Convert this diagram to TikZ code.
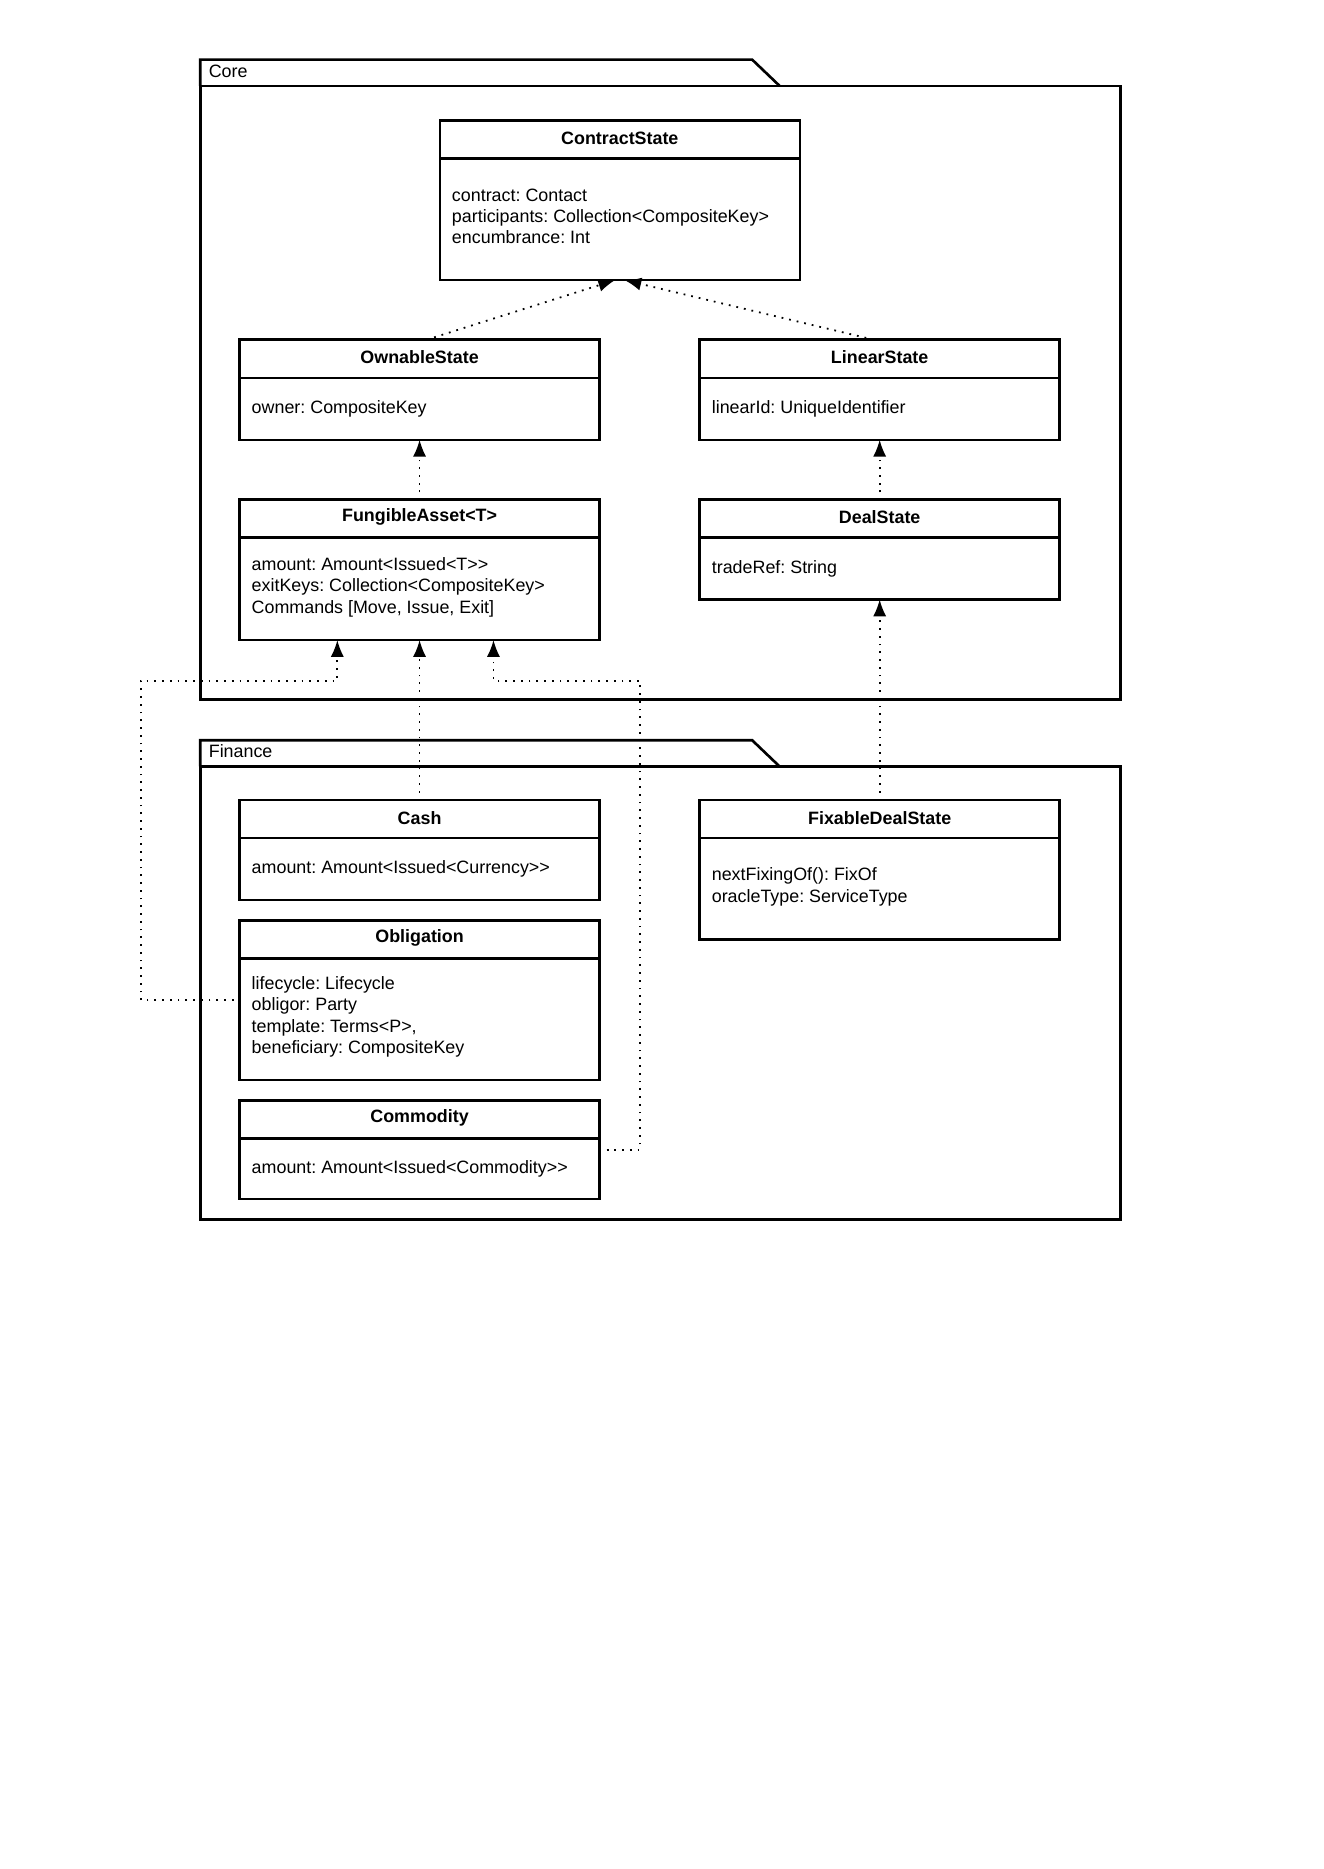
\documentclass[tikz,border=0pt]{standalone}
\usepackage{fontspec}
\setmainfont{Liberation Sans}
\usetikzlibrary{arrows.meta,calc}
\frenchspacing
\tikzset{
  classbox/.style={draw, line width=2.2pt, inner sep=0pt, outer sep=0pt, anchor=north west},
  ctitle/.style={font=\bfseries\fontsize{15}{18}\selectfont, inner sep=0pt},
  cbody/.style={font=\fontsize{15}{18}\selectfont, align=left, anchor=west, inner sep=0pt},
  pkg/.style={line width=2.2pt, line join=miter},
  pkglabel/.style={font=\fontsize{15}{18}\selectfont, anchor=west, inner sep=0pt},
  dep/.style={line width=1.5pt, dash pattern=on 1.5pt off 5pt, -{Latex[length=14pt,width=11pt]}}
}
\newcommand\UMLbox[8]{%
  \node[classbox, minimum width=#4pt, minimum height=#5pt] (#1) at (#2,#3) {};
  \draw[line width=2.2pt] ([yshift=-32pt]#1.north west) -- ([yshift=-32pt]#1.north east);
  \node[ctitle] (#1-t) at ({#2+#4/2},{#3+15}) {#6};
  \node[cbody] (#1-b) at ({#2+10},{#3+16+#5/2+#8}) {#7};
}
\begin{document}
\begin{tikzpicture}[x=1pt,y=-1pt]
\useasboundingbox[fill=white] (0,0) rectangle (1110,1568);
% Core package
\draw[pkg] (168,72) -- (168,50) -- (631,50) -- (654,72);
\draw[pkg] (168,72) rectangle (940,587);
\node[pkglabel] (corelbl) at (175,60) {Core};
% Finance package
\draw[pkg] (168,643) -- (168,621) -- (631,621) -- (654,643);
\draw[pkg] (168,643) rectangle (940,1023);
\node[pkglabel] (finlbl) at (175,630) {Finance};

\UMLbox{cs}{369}{101}{302}{134}{ContractState}{contract: Contact\\participants: Collection<CompositeKey>\\encumbrance: Int}{-2.5}
\UMLbox{os}{201}{285}{302}{84}{OwnableState}{owner: CompositeKey}{0}
\UMLbox{ls}{587}{285}{302}{84}{LinearState}{linearId: UniqueIdentifier}{0}
\UMLbox{fa}{201}{419}{302}{118}{FungibleAsset<T>}{amount: Amount<Issued<T>{}>\\exitKeys: Collection<CompositeKey>\\Commands [Move, Issue, Exit]}{-1.5}
\UMLbox{ds}{587}{419}{302}{84}{DealState}{tradeRef: String}{0}
\UMLbox{cash}{201}{671}{302}{84}{Cash}{amount: Amount<Issued<Currency>{}>}{0}
\UMLbox{ob}{201}{772}{302}{134}{Obligation}{lifecycle: Lifecycle\\obligor: Party\\template: Terms<P>,\\beneficiary: CompositeKey}{-2}
\UMLbox{com}{201}{923}{302}{83}{Commodity}{amount: Amount<Issued<Commodity>{}>}{0}
\UMLbox{fds}{587}{671}{302}{117}{FixableDealState}{nextFixingOf(): FixOf\\oracleType: ServiceType}{-1.5}

% connectors
\draw[dep] ([xshift=6pt]os.north) -- ([xshift=-4pt]cs.south);
\draw[dep] ([xshift=-5pt]ls.north) -- ([xshift=4pt]cs.south);
\draw[dep, shorten <=6pt] (fa.north) -- (os.south);
\draw[dep, shorten <=6pt] (ds.north) -- (ls.south);
\draw[dep, shorten <=6pt] (fds.north) -- (ds.south);
\draw[dep, shorten <=6pt] (cash.north) -- (fa.south);
\coordinate (bendL) at (118,571);
\coordinate (bendR) at (537,571);
\draw[dep, shorten <=5pt] (ob.west) -| (bendL) -| ([xshift=-69pt]fa.south);
\draw[dep, shorten <=6pt] (com.east) -| (bendR) -| ([xshift=62pt]fa.south);
\end{tikzpicture}
\end{document}
